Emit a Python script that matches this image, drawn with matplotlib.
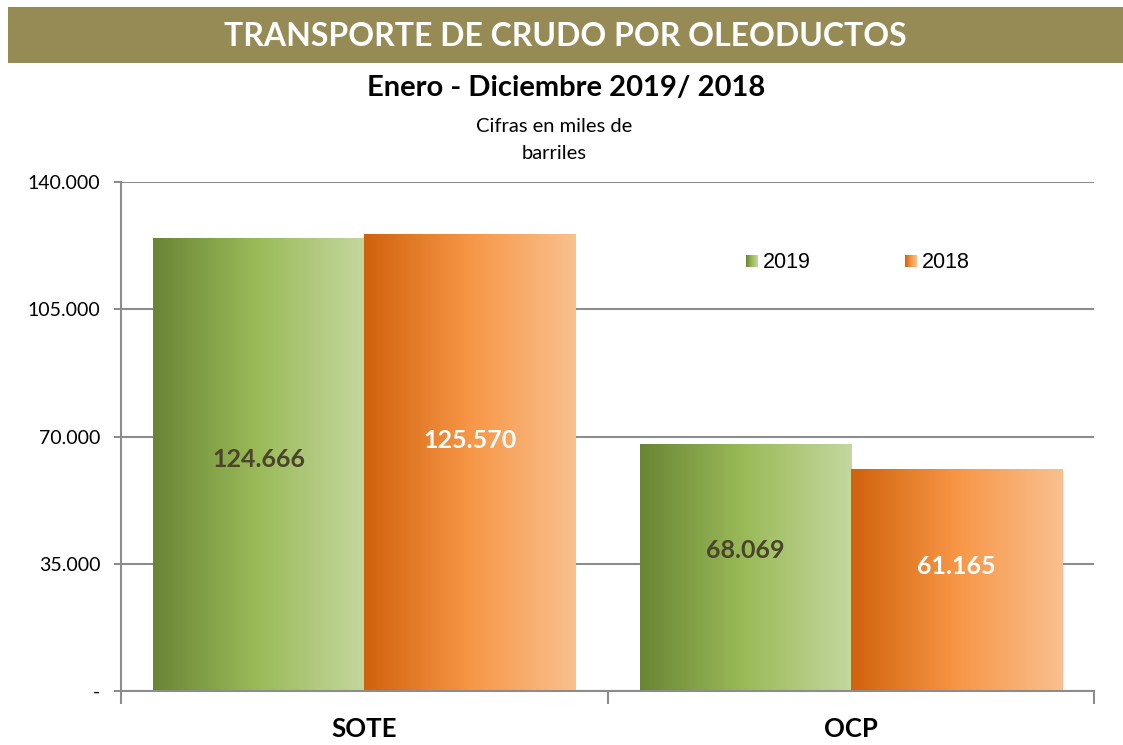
import numpy as np
import matplotlib
matplotlib.use("Agg")
import matplotlib.pyplot as plt
from matplotlib.colors import LinearSegmentedColormap
from matplotlib.patches import Rectangle

# data
categories = ["SOTE", "OCP"]
years = ["2019", "2018"]
values_2019 = [124666, 68069]
values_2018 = [125570, 61165]
yticks = [0, 35000, 70000, 105000, 140000]

plt.rcParams['font.family'] = ['Lato', 'DejaVu Sans']

green = LinearSegmentedColormap.from_list("g", ["#6A8535", "#9BBB59", "#C4D79F"])
orange = LinearSegmentedColormap.from_list("o", ["#D0620C", "#F79646", "#FAC08F"])
grad = np.linspace(0, 1, 256).reshape(1, -1)

fig = plt.figure(figsize=(11.23, 7.45), dpi=100)

# title banner
fig.patches.append(Rectangle((8 / 1123, 1 - 63 / 745), 1, 56 / 745, transform=fig.transFigure,
                             facecolor="#968B54", edgecolor="none"))
fig.text(0.503, 1 - 36 / 745, "TRANSPORTE DE CRUDO POR OLEODUCTOS", ha="center", va="center",
         color="white", fontsize=23, fontweight="bold")
fig.text(0.504, 1 - 88 / 745, "Enero - Diciembre 2019/ 2018", ha="center", va="center",
         fontsize=21, fontweight="bold")
fig.text(0.493, 1 - 140 / 745, "Cifras en miles de\nbarriles", ha="center", va="center",
         fontsize=14.5, linespacing=1.75)

ax = fig.add_axes([121 / 1123, 1 - 691 / 745, (1094 - 121) / 1123, (691 - 182) / 745])
x = np.arange(len(categories))
w = 0.434
b1 = ax.bar(x - w / 2, values_2019, w, facecolor="none", edgecolor="none")
b2 = ax.bar(x + w / 2, values_2018, w, facecolor="none", edgecolor="none")

for bars, cmap in [(b1, green), (b2, orange)]:
    for p in bars:
        x0, h = p.get_x(), p.get_height()
        im = ax.imshow(grad, cmap=cmap, aspect="auto", extent=(x0, x0 + p.get_width(), 0, h),
                       zorder=2)
        im.set_clip_path(p)

ax.set_xlim(-0.5, 1.5)
ax.set_ylim(0, 140000)
ax.set_yticks(yticks)
ax.set_yticklabels(["-" if v == 0 else f"{v:,}".replace(",", ".") for v in yticks], fontsize=14)
ax.yaxis.grid(True, color="#8C8C8C", linewidth=1.5, zorder=1)
ax.set_axisbelow(True)
ax.set_xticks([-0.5, 0.5, 1.5])
ax.set_xticklabels([])
ax.tick_params(axis="x", length=9, color="#8C8C8C", width=1.5)
ax.tick_params(axis="y", length=5, color="#8C8C8C", width=1.5, pad=10)
for s in ["top", "right"]:
    ax.spines[s].set_visible(False)
for s in ["left", "bottom"]:
    ax.spines[s].set_color("#8C8C8C")
    ax.spines[s].set_linewidth(1.5)
    ax.spines[s].set_zorder(3)

for i, c in enumerate(categories):
    ax.text(i, -10500, c, ha="center", va="center", fontsize=18.5, fontweight="bold")

# value labels
label_frac_2019 = [0.51, 0.566]
label_frac_2018 = [0.548, 0.562]
for i in range(len(categories)):
    ax.text(x[i] - w / 2, values_2019[i] * label_frac_2019[i], f"{values_2019[i]:,}".replace(",", "."),
            ha="center", va="center", fontsize=18, fontweight="bold", color="#4A452A", zorder=4)
    ax.text(x[i] + w / 2, values_2018[i] * label_frac_2018[i], f"{values_2018[i]:,}".replace(",", "."),
            ha="center", va="center", fontsize=18, fontweight="bold", color="white", zorder=4)

# legend with gradient swatches
for lx, cmap, lab in [(746, green, years[0]), (905, orange, years[1])]:
    sw = fig.add_axes([lx / 1123, 1 - 267 / 745, 12 / 1123, 12 / 745])
    sw.imshow(grad, cmap=cmap, aspect="auto")
    sw.axis("off")
    fig.text((lx + 17) / 1123, 1 - 262 / 745, lab, ha="left", va="center", fontsize=15.5,
             family=["Liberation Sans", "DejaVu Sans"])

fig.savefig("out.png", dpi=100)
